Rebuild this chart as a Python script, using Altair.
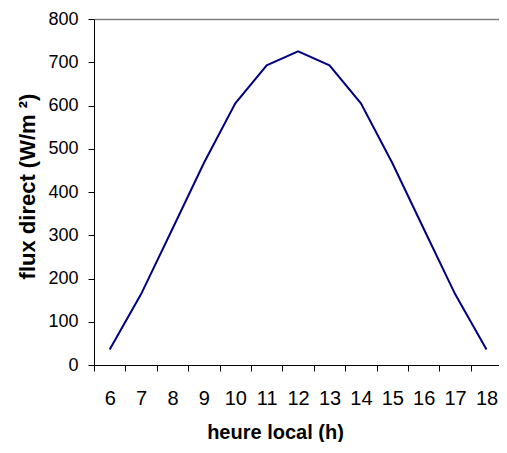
import altair as alt
import pandas as pd

hours = [6, 7, 8, 9, 10, 11, 12, 13, 14, 15, 16, 17, 18]
flux = [36, 164, 315, 467, 605, 693, 725, 693, 605, 467, 315, 164, 36]
y_ticks = [0, 100, 200, 300, 400, 500, 600, 700, 800]
x_tick_bounds = [h - 0.5 for h in hours]

df = pd.DataFrame({"h": hours, "flux": flux})

font = "Liberation Sans"

chart = alt.Chart(df).mark_line(color="#000080", strokeWidth=2).encode(
    x=alt.X(
        "h:Q",
        scale=alt.Scale(domain=[5.5, 18.398], nice=False, zero=False),
        axis=alt.Axis(
            values=x_tick_bounds,
            labelExpr="format(datum.value + 0.5, 'd')",
            labelOffset=15.7,
            labelFontSize=20,
            labelFont=font,
            labelColor="#000",
            labelPadding=17,
            labelFlush=False,
            labelOverlap=False,
            ticks=True,
            tickSize=6,
            tickColor="#000",
            domainColor="#000",
            grid=False,
            title="heure local (h)",
            titleFont=font,
            titleFontSize=20,
            titleFontWeight="bold",
            titleColor="#000",
            titleX=181,
            titleY=73,
            titleBaseline="alphabetic",
            titleAlign="center",
        ),
    ),
    y=alt.Y(
        "flux:Q",
        scale=alt.Scale(domain=[0, 800], nice=False),
        axis=alt.Axis(
            values=y_ticks,
            labelFontSize=18,
            labelFont=font,
            labelColor="#000",
            labelPadding=10,
            labelFlush=False,
            tickSize=6,
            tickColor="#000",
            domainColor="#000",
            grid=True,
            gridColor="#808080",
            gridWidth=1.5,
            gridOpacity={"condition": {"test": "datum.value === 800", "value": 1}, "value": 0},
            title="flux direct (W/m ²)",
            titleFont=font,
            titleFontSize=22,
            titleFontWeight="bold",
            titleColor="#000",
            titleX=-60,
            titleY=167,
            titleBaseline="alphabetic",
            titleAlign="center",
            titleAngle=270,
        ),
    ),
).properties(
    width=405,
    height=346,
    padding={"left": 86, "top": 11, "right": 0, "bottom": 77},
    autosize="none",
).configure_view(stroke=None)

chart.save("out.html", embed_options={"renderer": "svg", "actions": False})
